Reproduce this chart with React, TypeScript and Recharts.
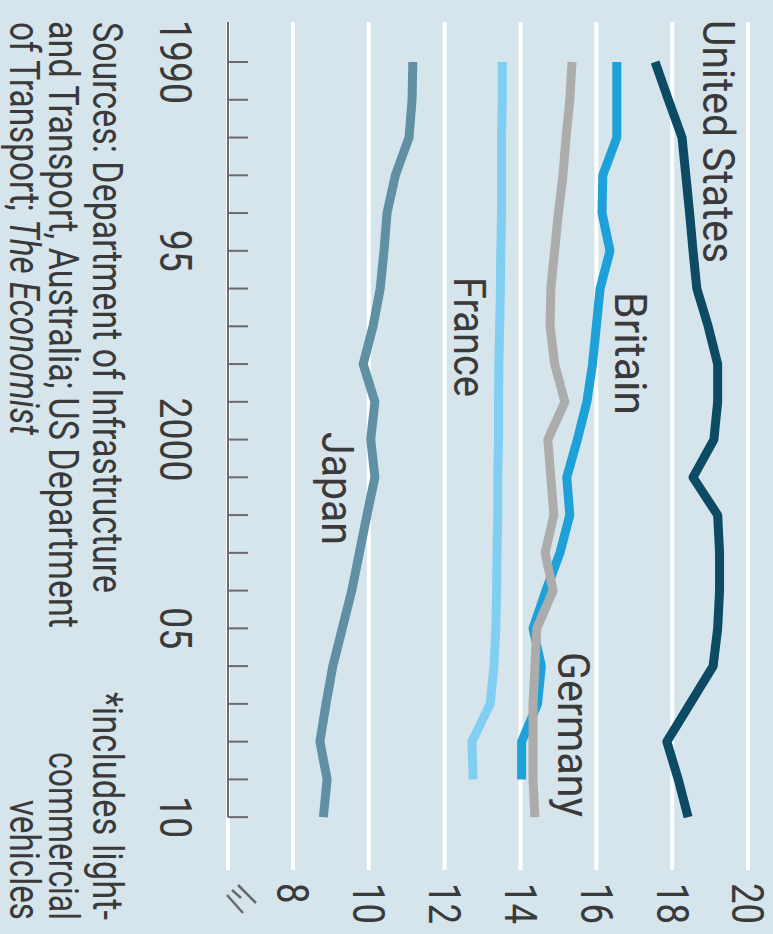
import { LineChart, Line, XAxis, YAxis, CartesianGrid, ReferenceLine } from "recharts";

const years = [
  1990, 1991, 1992, 1993, 1994, 1995, 1996, 1997, 1998, 1999, 2000,
  2001, 2002, 2003, 2004, 2005, 2006, 2007, 2008, 2009, 2010,
];
const unitedStates = [
  17.55, 17.9, 18.26, 18.36, 18.46, 18.55, 18.65, 18.95, 19.2, 19.2, 19.1,
  18.55, 19.2, 19.25, 19.25, 19.2, 19.08, 18.47, 17.86, 18.16, 18.42,
];
const britain = [
  16.54, 16.54, 16.54, 16.17, 16.15, 16.36, 16.1, 16.0, 15.9, 15.75, 15.5,
  15.22, 15.3, 15.04, 14.67, 14.33, 14.55, 14.45, 14.03, 14.03, null,
];
const germany = [
  15.36, 15.3, 15.2, 15.12, 15.0, 14.9, 14.8, 14.78, 14.9, 15.17, 14.72,
  14.8, 14.88, 14.65, 14.86, 14.43, 14.38, 14.33, 14.33, 14.33, 14.38,
];
const france = [
  13.52, 13.52, 13.5, 13.5, 13.5, 13.48, 13.47, 13.45, 13.43, 13.42, 13.42,
  13.4, 13.4, 13.38, 13.37, 13.35, 13.3, 13.2, 12.72, 12.75, null,
];
const japan = [
  11.16, 11.14, 11.06, 10.7, 10.48, 10.4, 10.3, 10.11, 9.85, 10.16, 10.05,
  10.16, 9.95, 9.75, 9.55, 9.3, 9.05, 8.87, 8.71, 8.9, 8.8,
];

const yearLabels: Record<number, string> = {
  1990: "1990",
  1995: "95",
  2000: "2000",
  2005: "05",
  2010: "10",
};
const valueTicks = [8, 10, 12, 14, 16, 18, 20];

const data = years.map((year, i) => ({
  year,
  us: unitedStates[i],
  britain: britain[i],
  germany: germany[i],
  france: france[i],
  japan: japan[i],
}));

const BG = "#d6e4ec";
const AXIS = "#6a6a6a";
const TEXT = "#3a3a3a";
const FONT = "Roboto, 'Noto Sans', sans-serif";

const X_MIN = 1988.94;
const X_MAX = 2011.4;
const Y_MIN = 6.2857;

// digits in the original are narrow, squeeze them to ~21px each
const DIGIT_W = 21;

function YearTick({ x, y, payload }: any) {
  const label = yearLabels[payload.value];
  return (
    <g>
      <line x1={x} x2={x} y1={y} y2={y - 20} stroke={AXIS} strokeWidth={2} />
      {label && (
        <text
          x={x}
          y={y + 68}
          textAnchor="middle"
          fill={TEXT}
          fontSize={44}
          fontFamily={FONT}
          textLength={label.length * DIGIT_W}
          lengthAdjust="spacingAndGlyphs"
        >
          {label}
        </text>
      )}
    </g>
  );
}

function ValueTick({ x, y, payload }: any) {
  const s = String(payload.value);
  return (
    <text
      x={x}
      y={y}
      dy={15.6}
      textAnchor="start"
      fill={TEXT}
      fontSize={44}
      fontFamily={FONT}
      textLength={s.length * 20.5}
      lengthAdjust="spacingAndGlyphs"
    >
      {s}
    </text>
  );
}

function Label({ x, y, len, size = 44, anchor = "start", children }: any) {
  return (
    <text
      x={x}
      y={y}
      fontSize={size}
      textAnchor={anchor}
      textLength={len}
      lengthAdjust="spacingAndGlyphs"
    >
      {children}
    </text>
  );
}

export default function App() {
  return (
    <div
      style={{
        position: "absolute",
        left: 0,
        top: 0,
        width: 773,
        height: 934,
        overflow: "hidden",
        background: BG,
      }}
    >
      <div
        style={{
          position: "absolute",
          left: 0,
          top: 0,
          width: 934,
          height: 773,
          transformOrigin: "0 0",
          transform: "translate(773px, 0) rotate(90deg)",
        }}
      >
        <LineChart
          width={934}
          height={773}
          data={data}
          margin={{ top: 25, right: 0, left: 22, bottom: 148 }}
        >
          <CartesianGrid vertical={false} stroke="#ffffff" strokeWidth={4} />
          <XAxis
            dataKey="year"
            type="number"
            domain={[X_MIN, X_MAX]}
            ticks={years}
            interval={0}
            height={80}
            axisLine={false}
            tickLine={false}
            tickSize={0}
            tickMargin={0}
            tick={<YearTick />}
          />
          <YAxis
            orientation="right"
            type="number"
            width={64}
            domain={[Y_MIN, 20]}
            ticks={valueTicks}
            interval={0}
            axisLine={false}
            tickLine={false}
            tickSize={0}
            tickMargin={13}
            tick={<ValueTick />}
          />
          <ReferenceLine
            segment={[
              { x: X_MIN, y: Y_MIN },
              { x: 2010, y: Y_MIN },
            ]}
            stroke={AXIS}
            strokeWidth={2}
            ifOverflow="visible"
          />
          <Line dataKey="japan" stroke="#5f90a4" strokeWidth={9} dot={false} isAnimationActive={false} strokeLinejoin="round" />
          <Line dataKey="france" stroke="#80cff2" strokeWidth={9} dot={false} isAnimationActive={false} strokeLinejoin="round" />
          <Line dataKey="britain" stroke="#1ea1d9" strokeWidth={9} dot={false} isAnimationActive={false} strokeLinejoin="round" />
          <Line dataKey="germany" stroke="#acacac" strokeWidth={9} dot={false} isAnimationActive={false} strokeLinejoin="round" />
          <Line dataKey="us" stroke="#0d4a63" strokeWidth={9} dot={false} isAnimationActive={false} strokeLinejoin="round" />
        </LineChart>
        <svg
          width={934}
          height={773}
          style={{ position: "absolute", left: 0, top: 0, pointerEvents: "none" }}
          fontFamily={FONT}
          fill={TEXT}
        >
          <Label x={20} y={70} len={243} size={45}>United States</Label>
          <Label x={292} y={158} len={123}>Britain</Label>
          <Label x={277} y={319} len={120}>France</Label>
          <Label x={432} y={451} len={113}>Japan</Label>
          <Label x={652} y={215} len={165}>Germany</Label>

          <Label x={22} y={680} len={571} size={42}>
            Sources: Department of Infrastructure
          </Label>
          <Label x={21} y={724} len={607} size={42}>
            and Transport, Australia; US Department
          </Label>
          <Label x={22} y={763} len={413} size={42}>
            of Transport; <tspan fontStyle="italic">The Economist</tspan>
          </Label>
          <Label x={920} y={680} len={228} size={42} anchor="end">
            *includes light-
          </Label>
          <Label x={920} y={724} len={168} size={42} anchor="end">
            commercial
          </Label>
          <Label x={920} y={763} len={120} size={42} anchor="end">
            vehicles
          </Label>

          <g stroke={AXIS} strokeWidth={2.5} fill="none">
            <path d="M 885 535 L 903 517" />
            <path d="M 895 546 L 913 530" />
            <path d="M 890 541 L 898 532" />
          </g>
        </svg>
      </div>
    </div>
  );
}
